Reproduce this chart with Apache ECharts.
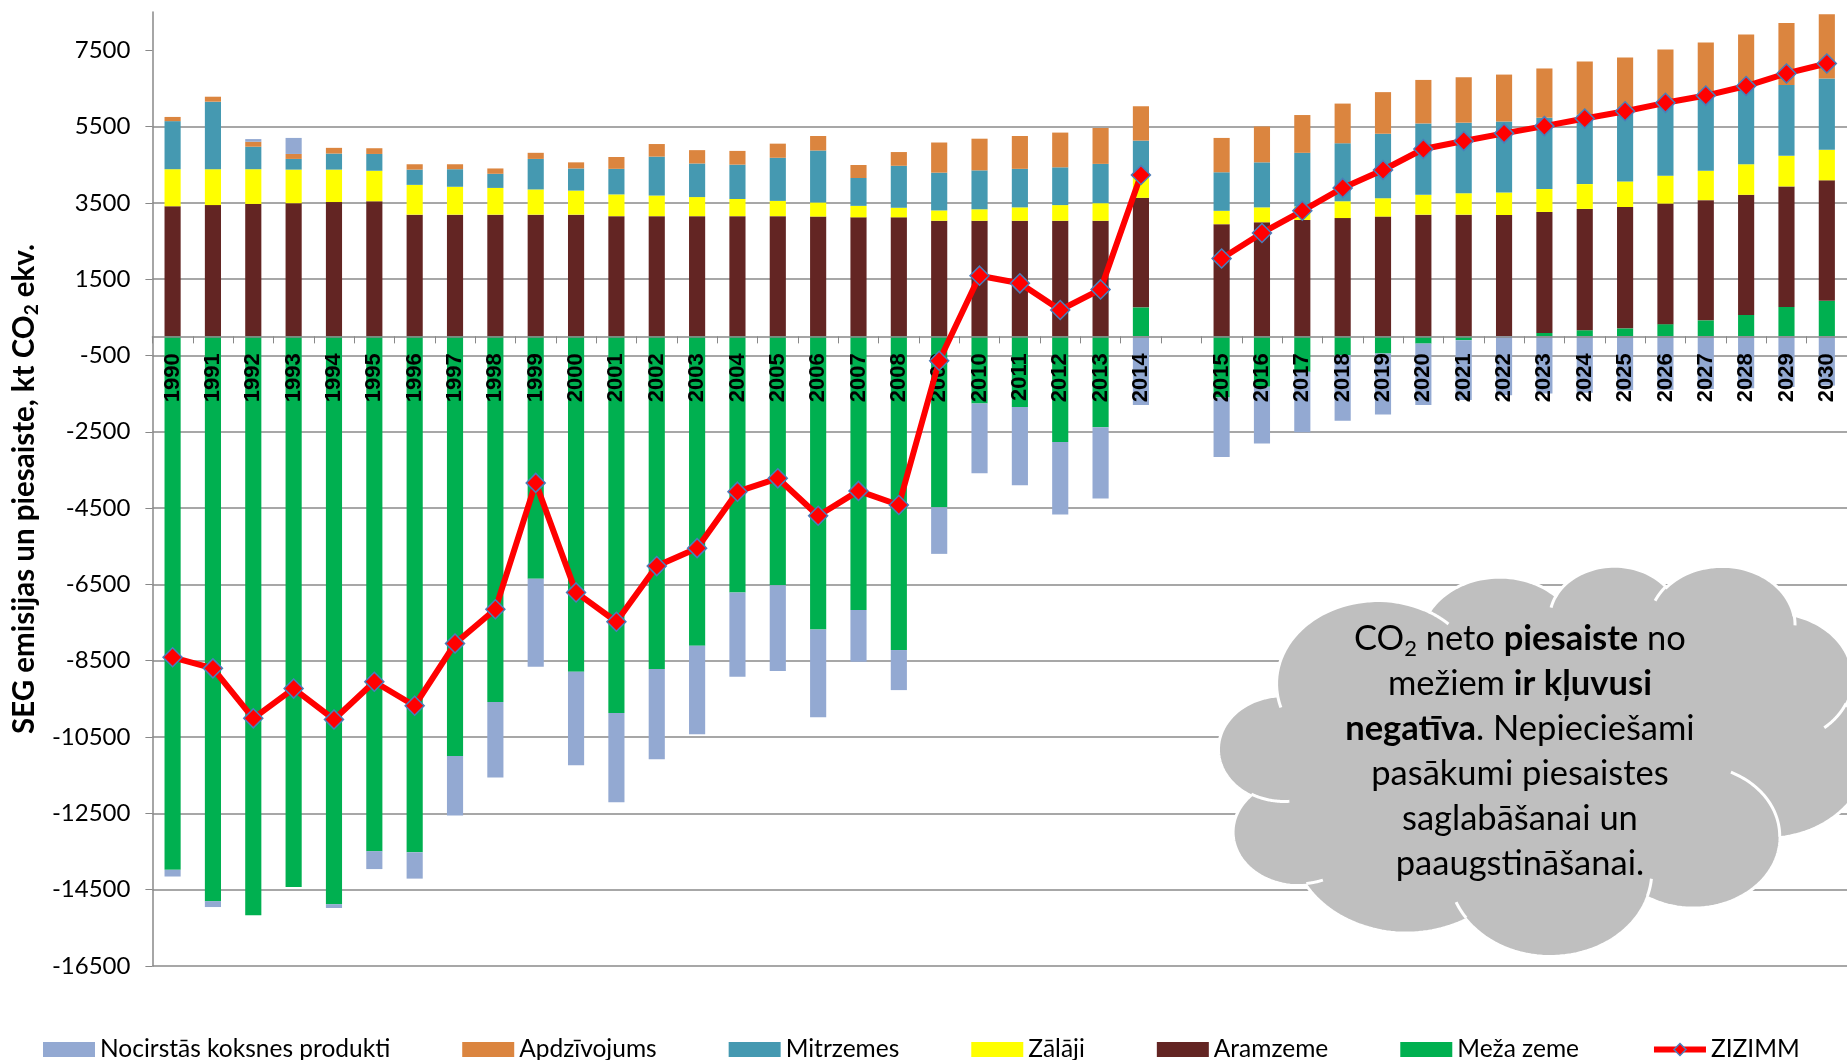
<!DOCTYPE html>
<html>
<head>
<meta charset="utf-8">
<script src="https://cdn.jsdelivr.net/npm/echarts@6/dist/echarts.min.js"></script>
<style>
  html, body { margin: 0; padding: 0; background: #fff; }
  #chart { width: 1847px; height: 1060px; }
</style>
</head>
<body>
<div id="chart"></div>
<script>
// Years on the category axis; the empty entry separates history (to 2014) from projections (2015+)
const years = ['1990','1991','1992','1993','1994','1995','1996','1997','1998','1999',
  '2000','2001','2002','2003','2004','2005','2006','2007','2008','2009',
  '2010','2011','2012','2013','2014','',
  '2015','2016','2017','2018','2019','2020','2021','2022','2023','2024',
  '2025','2026','2027','2028','2029','2030'];

// LULUCF emissions (+) and removals (-) by land category, kt CO2 eq.
const mezaZeme = [-13980,-14800,-15170,-14430,-14880,-13490,-13520,-11000,-9580,-6350,
  -8790,-9870,-8720,-8110,-6710,-6520,-7680,-7170,-8220,-4480,
  -1760,-1850,-2770,-2380,760,null,
  -1600,-1320,-930,-490,-450,-190,-100,0,90,160,
  210,320,420,560,770,930];
const aramzeme = [3410,3440,3470,3490,3520,3540,3190,3190,3190,3190,
  3190,3150,3150,3150,3150,3150,3140,3120,3120,3030,
  3030,3030,3030,3030,2870,null,
  2940,2990,3050,3100,3140,3190,3190,3180,3170,3180,
  3180,3160,3150,3150,3160,3160];
const zalaji = [970,940,910,880,850,800,780,730,700,660,
  630,570,540,500,450,400,370,300,250,270,
  300,350,410,460,540,null,
  350,390,350,440,480,520,560,590,600,650,
  670,730,770,800,800,800];
const mitrzemes = [1260,1770,590,280,420,440,400,460,370,800,
  580,670,1020,880,900,1130,1360,730,1100,990,
  1020,1010,990,1030,960,null,
  1010,1180,1410,1520,1690,1870,1850,1860,1870,1820,
  1910,1980,2030,1980,1860,1870];
const apdzivojums = [110,130,130,130,150,150,140,130,140,160,
  160,310,330,350,360,370,380,340,360,790,
  830,860,910,940,900,null,
  900,940,990,1040,1090,1140,1190,1230,1290,1390,
  1340,1330,1330,1420,1620,1680];
const koksnesProdukti = [-175,-155,70,420,-100,-470,-690,-1555,-1980,-2310,
  -2450,-2340,-2360,-2320,-2210,-2250,-2300,-1360,-1050,-1220,
  -1830,-2050,-1900,-1870,-1800,null,
  -1560,-1490,-1580,-1720,-1600,-1610,-1570,-1540,-1500,-1480,
  -1410,-1400,-1380,-1360,-1330,-1290];
// Net LULUCF total (ZIZIMM)
const zizimm = [-8410,-8700,-10010,-9230,-10040,-9050,-9680,-8050,-7150,-3840,
  -6710,-7480,-6020,-5550,-4070,-3720,-4700,-4050,-4420,-640,
  1590,1390,690,1230,4230,null,
  2040,2710,3290,3890,4360,4910,5120,5320,5510,5710,
  5900,6120,6310,6560,6890,7150];

// Value-axis tick labels
const yTicks = [-16500,-14500,-12500,-10500,-8500,-6500,-4500,-2500,-500,1500,3500,5500,7500];

const COLORS = {
  meza: '#00B050', aram: '#632523', zal: '#FFFF00', mitr: '#4599B1',
  apdz: '#DB853F', hwp: '#93A9D2', line: '#FF0000', marker: '#4A7EBB'
};

// Cloud outline (DrawingML "cloud" preset, 43200-unit box)
const CLOUD_OUTER = [[3900,14370],
  [6753,9190,-11429249,7426832],[5333,7267,-8646143,5396714],[4365,5945,-8748475,5983381],
  [4857,6595,-7859164,7034504],[5333,7273,-4722533,6541615],[6775,9220,-2776035,7816140],
  [5785,7867,37501,6842000],[6752,9215,1347096,6910353],[7720,10543,3974558,4542661],
  [4360,5918,-16496525,8804134],[4345,5945,-14809710,9151131]];
const CLOUD_INNER = [
  [[4693,26177],[4345,5945,5204520,1585770]],
  [[6928,34899],[4360,5918,4416628,686848]],
  [[16478,39090],[6752,9215,8257449,844866]],
  [[28827,34751],[6752,9215,387196,959901]],
  [[34129,22954],[5785,7867,-4217541,4255042]],
  [[41798,15354],[5333,7273,1819082,1665090]],
  [[38324,5426],[4857,6595,-824660,891534]],
  [[29078,3952],[4857,6595,-8950887,1091722]],
  [[22141,4720],[4365,5945,-9809656,1170289]],
  [[14000,5192],[6753,9190,-4002417,739161]],
  [[4127,15789],[6753,9190,9459261,711490]]
];

function arcPoints(start, arcs, box) {
  const U = 43200;
  let px = start[0], py = start[1];
  const map = (x, y) => [box.x + x / U * box.w, box.y + y / U * box.h];
  const pts = [map(px, py)];
  const vis = (wR, hR, a) => Math.atan2(wR * Math.sin(a), hR * Math.cos(a));
  arcs.forEach(([wR, hR, st, sw]) => {
    const a0 = st / 60000 * Math.PI / 180;
    const a1 = (st + sw) / 60000 * Math.PI / 180;
    const t0 = vis(wR, hR, a0);
    let t1 = vis(wR, hR, a1);
    if (sw > 0 && t1 < t0) t1 += 2 * Math.PI;
    if (sw < 0 && t1 > t0) t1 -= 2 * Math.PI;
    const cx = px - wR * Math.cos(t0), cy = py - hR * Math.sin(t0);
    const N = 40;
    for (let k = 1; k <= N; k++) {
      const t = t0 + (t1 - t0) * k / N;
      px = cx + wR * Math.cos(t); py = cy + hR * Math.sin(t);
      pts.push(map(px, py));
    }
  });
  return pts;
}

const chart = echarts.init(document.getElementById('chart'), null, { renderer: 'canvas' });
const cloudBox = { x: 1219, y: 565, w: 648, h: 390 };

const cloudElements = [{
  type: 'polygon', z: 10, silent: true,
  shape: { points: arcPoints(CLOUD_OUTER[0], CLOUD_OUTER.slice(1), cloudBox) },
  style: { fill: '#BFBFBF', stroke: '#FFFFFF', lineWidth: 3 }
}].concat(CLOUD_INNER.map(([s, a]) => ({
  type: 'polyline', z: 11, silent: true,
  shape: { points: arcPoints(s, [a], cloudBox) },
  style: { stroke: '#FFFFFF', lineWidth: 3, fill: null }
}))).concat([{
  type: 'text', z: 12, silent: true,
  x: cloudBox.x + cloudBox.w * 0.4644,
  y: cloudBox.y + cloudBox.h * 0.4768,
  style: {
    text: '{n|CO}{s|2}{n| neto }{b|piesaiste}{n| no}\n{n|mežiem }{b|ir kļuvusi}\n{b|negatīva}{n|. Nepieciešami}\n{n|pasākumi piesaistes}\n{n|saglabāšanai un}\n{n|paaugstināšanai.}',
    align: 'center', verticalAlign: 'middle',
    fill: '#000',
    rich: {
      n: { fontFamily: 'Lato', fontSize: 34.5, lineHeight: 45, fill: '#000' },
      b: { fontFamily: 'Lato', fontSize: 34.5, fontWeight: 'bold', lineHeight: 45, fill: '#000' },
      s: { fontFamily: 'Lato', fontSize: 22, lineHeight: 45, fill: '#000', padding: [20, 0, 0, 0] }
    }
  }
}]);

function barSeries(name, data, color) {
  return {
    name, type: 'bar', stack: 'total', data, barWidth: '40%', z: 2,
    itemStyle: { color },
    emphasis: { disabled: true }
  };
}

const legendNames = ['Nocirstās koksnes produkti', 'Apdzīvojums', 'Mitrzemes', 'Zālāji', 'Aramzeme', 'Meža zeme'];

chart.setOption({
  animation: false,
  backgroundColor: '#fff',
  grid: { left: 150, right: 0, top: 12, bottom: 94, containLabel: false },
  legend: {
    left: 38, top: 1032, itemGap: 72, itemWidth: 52, itemHeight: 15,
    textStyle: { fontFamily: 'Lato', fontSize: 24.5, color: '#000' },
    data: legendNames.map(n => ({ name: n, icon: 'rect' })).concat([{
      name: 'ZIZIMM',
      lineStyle: { width: 6, color: COLORS.line },
      itemStyle: { color: COLORS.line, borderColor: COLORS.marker, borderWidth: 1.5 }
    }])
  },
  xAxis: {
    type: 'category', data: years, z: 3,
    axisLine: { onZero: false, lineStyle: { color: '#888', width: 1.5 } },
    axisTick: { show: true, length: 7, interval: 0, lineStyle: { color: '#888' } },
    axisLabel: {
      interval: 0, rotate: 90, margin: 17,
      fontFamily: 'Liberation Sans', fontWeight: 'bold', fontSize: 22, color: '#000'
    },
    splitLine: { show: false }
  },
  yAxis: {
    type: 'value', min: -16500, max: 8500, interval: 2000,
    name: '{t|SEG emisijas un piesaiste, kt CO}{s|2}{t| ekv.}',
    nameLocation: 'middle', nameGap: 104, nameRotate: 90,
    nameTextStyle: {
      rich: {
        t: { fontFamily: 'Lato', fontWeight: 'bold', fontSize: 29.5, color: '#000', lineHeight: 35 },
        s: { fontFamily: 'Lato', fontWeight: 'bold', fontSize: 19, color: '#000', lineHeight: 35, padding: [14, 0, 0, 0] }
      }
    },
    axisLine: { show: true, lineStyle: { color: '#888', width: 1.5 } },
    axisTick: { show: true, length: 7, customValues: yTicks, lineStyle: { color: '#888' } },
    axisLabel: {
      customValues: yTicks, margin: 22,
      formatter: v => String(v),
      fontFamily: 'Lato', fontSize: 24, color: '#000'
    },
    splitLine: { show: true, showMaxLine: false, lineStyle: { color: '#8a8a8a', width: 1.5 } }
  },
  graphic: cloudElements,
  series: [
    barSeries('Meža zeme', mezaZeme, COLORS.meza),
    barSeries('Aramzeme', aramzeme, COLORS.aram),
    barSeries('Zālāji', zalaji, COLORS.zal),
    barSeries('Mitrzemes', mitrzemes, COLORS.mitr),
    barSeries('Apdzīvojums', apdzivojums, COLORS.apdz),
    barSeries('Nocirstās koksnes produkti', koksnesProdukti, COLORS.hwp),
    {
      name: 'ZIZIMM', type: 'line', data: zizimm, z: 5,
      connectNulls: false,
      symbol: 'diamond', symbolSize: 19,
      lineStyle: { color: COLORS.line, width: 6 },
      itemStyle: { color: COLORS.line, borderColor: COLORS.marker, borderWidth: 1.5 },
      emphasis: { disabled: true }
    }
  ]
});

// Move the category axis up so it runs along the zero line of the value axis
const zeroY = chart.convertToPixel({ yAxisIndex: 0 }, 0);
const bottomY = chart.convertToPixel({ yAxisIndex: 0 }, -16500);
chart.setOption({ xAxis: { offset: zeroY - bottomY } });
</script>
</body>
</html>
